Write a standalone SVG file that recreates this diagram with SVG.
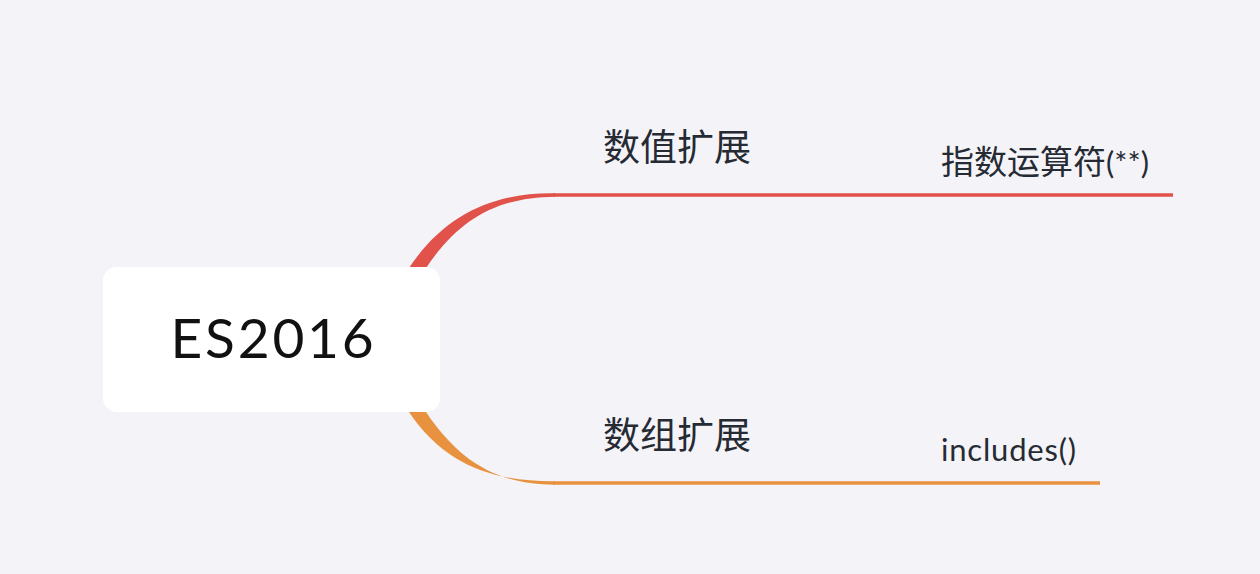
<svg xmlns="http://www.w3.org/2000/svg" width="1260" height="574" viewBox="0 0 1260 574">
<style>
.t{font-family:"Noto Sans CJK SC","Noto Sans",sans-serif;fill:#252a33}
.s{font-family:Lato,"Noto Sans CJK SC",sans-serif;fill:#252a33}
</style>
<rect width="1260" height="574" fill="#f4f3f8"/>
<g id="connectors">
<path d="M409 268 C445 214 495 192.3 555 193.3 L555 196.7 C500 197.5 461 216 426 268 Z" fill="#e0524a"/>
<line x1="553" y1="195" x2="1173" y2="195" stroke="#e0524a" stroke-width="3.4"/>
<path d="M409 412 C445 466 495 481.7 555 481.3 L555 484.7 C500 484.5 461 464 426 412 Z" fill="#e8913f"/>
<line x1="553" y1="483" x2="1100" y2="483" stroke="#e8913f" stroke-width="3.4"/>
</g>
<g id="root">
<rect x="103" y="267" width="337" height="145" rx="14" fill="#ffffff"/>
<text x="273.5" y="358" text-anchor="middle" font-family="Lato,sans-serif" font-size="55" letter-spacing="2.8" fill="#111">ES2016</text>
</g>
<g id="n1"><text class="t" x="603" y="161" font-size="37">数值扩展</text></g>
<g id="n1a"><text class="t" x="941" y="174" font-size="33">指数运算符<tspan class="s" font-size="31">(**)</tspan></text></g>
<g id="n2"><text class="t" x="603" y="449" font-size="37">数组扩展</text></g>
<g id="n2a"><text class="s" x="941" y="461" font-size="31" letter-spacing="0.8">includes()</text></g>
</svg>
